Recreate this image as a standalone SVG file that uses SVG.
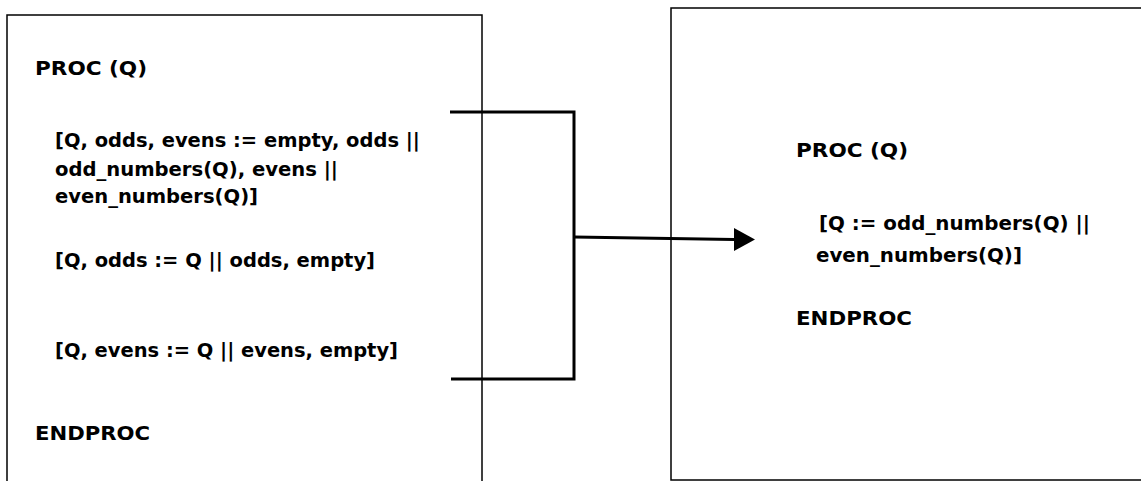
<svg xmlns="http://www.w3.org/2000/svg" width="1141" height="481" viewBox="0 0 1141 481">
<defs>
<style>
.box{fill:#fff;stroke:#000;stroke-width:1.5}
.t{font-family:"DejaVu Sans",Verdana,sans-serif;font-weight:bold;font-size:20px;fill:#000}
.c{fill:none;stroke:#000;stroke-width:3}
</style>
</defs>
<g id="left-proc">
<rect class="box" x="7" y="15" width="475" height="480"/>
<text class="t" x="35" y="75" textLength="112" lengthAdjust="spacingAndGlyphs">PROC (Q)</text>
<text class="t" x="55" y="147" textLength="365" lengthAdjust="spacingAndGlyphs">[Q, odds, evens := empty, odds ||</text>
<text class="t" x="55" y="176" textLength="283" lengthAdjust="spacingAndGlyphs">odd_numbers(Q), evens ||</text>
<text class="t" x="55" y="203" textLength="203" lengthAdjust="spacingAndGlyphs">even_numbers(Q)]</text>
<text class="t" x="55" y="267" textLength="320" lengthAdjust="spacingAndGlyphs">[Q, odds := Q || odds, empty]</text>
<text class="t" x="55" y="357" textLength="343" lengthAdjust="spacingAndGlyphs">[Q, evens := Q || evens, empty]</text>
<text class="t" x="35" y="440" textLength="115" lengthAdjust="spacingAndGlyphs">ENDPROC</text>
</g>
<g id="right-proc">
<rect class="box" x="671" y="8" width="480" height="472"/>
<text class="t" x="796" y="157" textLength="112" lengthAdjust="spacingAndGlyphs">PROC (Q)</text>
<text class="t" x="819" y="230" textLength="271" lengthAdjust="spacingAndGlyphs">[Q := odd_numbers(Q) ||</text>
<text class="t" x="816" y="262" textLength="206" lengthAdjust="spacingAndGlyphs">even_numbers(Q)]</text>
<text class="t" x="796" y="325" textLength="116" lengthAdjust="spacingAndGlyphs">ENDPROC</text>
</g>
<g id="connectors">
<polyline class="c" points="450,112 574,112 574,379 451,379"/>
<line class="c" x1="574" y1="237" x2="734" y2="239.5"/>
<path d="M734,228 L755,239.5 L734,251 Z" fill="#000"/>
</g>
</svg>
